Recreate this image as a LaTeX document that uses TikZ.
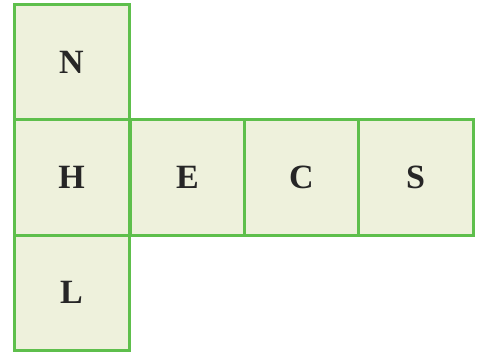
\documentclass[tikz,border=0pt]{standalone}
\usepackage{fontspec}
\setmainfont{Liberation Serif}
\definecolor{cellfill}{HTML}{EEF1DC}
\definecolor{cellline}{HTML}{5EBF4C}
\begin{document}
\begin{tikzpicture}[x=1pt,y=-1pt,
  cell/.style={draw=cellline, line width=3pt, fill=cellfill, minimum width=115pt, minimum height=115pt, inner sep=0pt, font=\fontsize{34}{40}\selectfont\bfseries, text=black!85}]
\useasboundingbox (0,0) rectangle (478,358);
\node[cell] (n) at (71.5,62.5) {N};
\node[cell] (h) at (71.5,177.5) {H};
\node[cell] (l) at (71.5,292.5) {L};
\node[cell] (e) at (187.5,177.5) {E};
\node[cell] (c) at (301.5,177.5) {C};
\node[cell] (s) at (415.5,177.5) {S};
\end{tikzpicture}
\end{document}
